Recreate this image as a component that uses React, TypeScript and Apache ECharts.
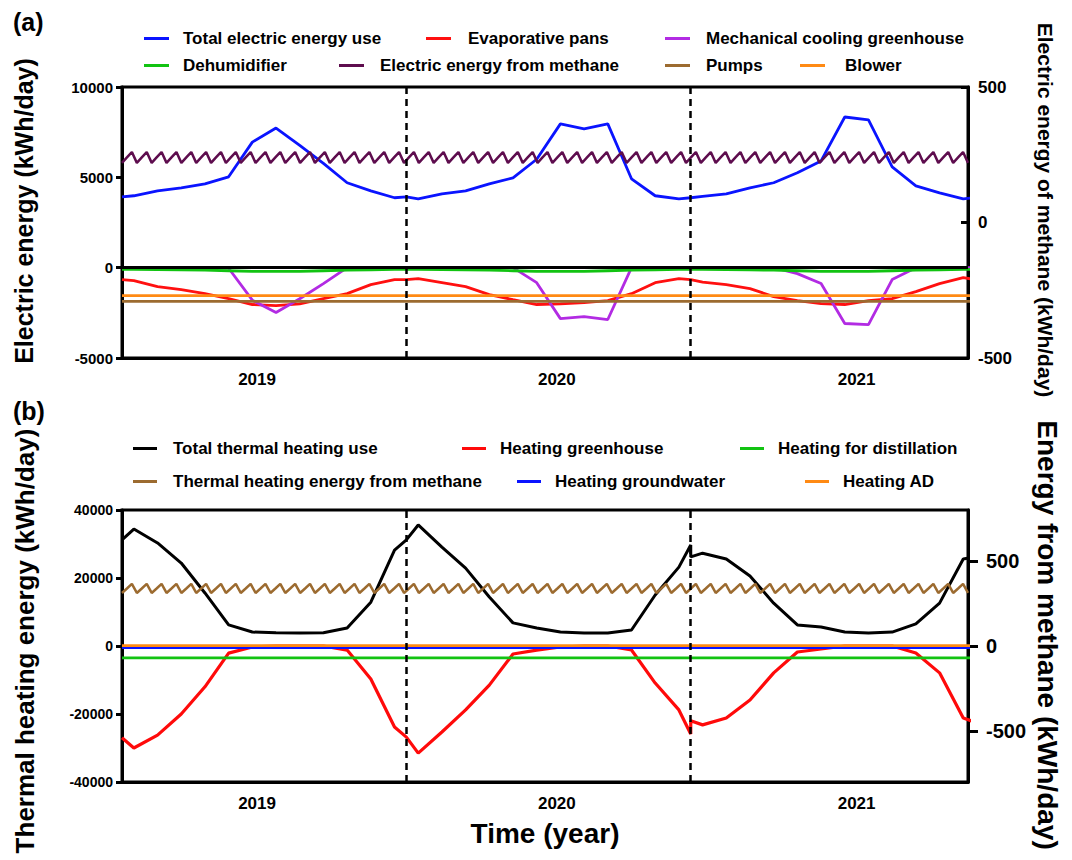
import React, { useEffect, useRef } from "react";
import * as echarts from "echarts";

const FONT = "'Liberation Sans', Arial, Helvetica, sans-serif";

// ---------- time axis (months since 1 Jan 2019) ----------
const monthMarks = [0, 0.5, 1.5, 2.5, 3.5, 4.5, 5.5, 6.5, 7.5, 8.5, 9.5, 10.5, 11.5, 12];
const yearOffsets = [0, 12, 24];
const yearBoundaries = [12, 24];
const yearLabels = ["2019", "2020", "2021"];
const yearLabelPositions = [5.7, 18.35, 31.0];
const axisMonths = [0, 35.7];
const spanEnds = [0, 36];

// ---------- panel (a): electric energy (kWh/day) ----------
const totalElectric = [
  3920, 3980, 4250, 4420, 4640, 5030, 6950, 7730, 6770, 5770, 4700, 4250, 3870, 3920,
  3900, 3810, 4090, 4250, 4640, 4970, 6000, 7960, 7680, 7960, 4920, 3980, 3810, 3870,
  3870, 3950, 4090, 4420, 4700, 5250, 5910, 8340, 8180, 5580, 4530, 4140, 3810, 3870,
];
const evaporativePans = [
  -660, -720, -1050, -1220, -1440, -1710, -2040, -2100, -2000, -1710, -1440, -940, -660, -660,
  -660, -610, -830, -1050, -1490, -1770, -2040, -2000, -1930, -1820, -1440, -830, -610, -660,
  -660, -800, -940, -1160, -1600, -1820, -1990, -2040, -1820, -1710, -1330, -880, -550, -660,
];
const mechanicalCooling = [
  0, 0, 0, 0, 0, -30, -1800, -2480, -1720, -880, 0, 0, 0, 0,
  0, 0, 0, 0, 0, 0, -830, -2820, -2710, -2870, 0, 0, 0, 0,
  0, 0, 0, 0, 0, -330, -880, -3090, -3150, -660, 0, 0, 0, 0,
];
const dehumidifier = [
  -100, -100, -110, -120, -140, -170, -200, -210, -200, -170, -140, -120, -100, -100,
  -100, -100, -110, -120, -140, -170, -200, -210, -200, -170, -140, -120, -100, -100,
  -100, -100, -110, -120, -140, -170, -200, -210, -200, -170, -140, -120, -100, -100,
];
const pumps = [-1870, -1870];
const blower = [-1550, -1550];
// electric energy from methane (right axis, kWh/day), sawtooth feeding cycles
const methaneElectric = [
  220, 240, 260, 220, 240, 260, 220, 240, 260, 220, 240, 260, 220, 240, 260,
  220, 240, 260, 220, 240, 260, 220, 240, 260, 220, 240, 260, 220, 240, 260,
  220, 240, 260, 220, 240, 260, 220, 240, 260, 220, 240, 260, 220, 240, 260,
  220, 240, 260, 220, 240, 260, 220, 240, 260, 220, 240, 260,
  220, 240, 260, 220, 240, 260, 220, 240, 260, 220, 240, 260, 220, 240, 260,
  220, 240, 260, 220, 240, 260, 220, 240, 260, 220, 240, 260, 220, 240, 260,
  220, 240, 260, 220, 240, 260, 220, 240, 260, 220, 240, 260, 220, 240, 260,
  220, 240, 260, 220, 240, 260, 220, 240, 260, 220, 240, 260,
  220, 240, 260, 220, 240, 260, 220, 240, 260, 220, 240, 260, 220, 240, 260,
  220, 240, 260, 220, 240, 260, 220, 240, 260, 220, 240, 260, 220, 240, 260,
  220, 240, 260, 220, 240, 260, 220, 240, 260, 220, 240, 260, 220, 240, 260,
  220, 240, 260, 220, 240, 260, 220, 240, 260, 220, 240, 260,
  220,
];

// ---------- panel (b): thermal heating energy (kWh/day) ----------
const totalThermal = [
  31200, 34400, 30300, 24400, 15600, 6200, 4100, 3900, 3800, 3900, 5300, 12900, 28200, 31200,
  31200, 35600, 29100, 22900, 14400, 6800, 5300, 4100, 3800, 3800, 4700, 15000, 23200, 29700,
  26200, 27300, 25600, 20600, 12600, 6200, 5600, 4100, 3800, 4100, 6500, 12600, 25600, 26200,
];
const heatingGreenhouse = [
  -27000, -30000, -26200, -20000, -12000, -2100, -300, 0, 0, 0, -1200, -9700, -23800, -26800,
  -26800, -31500, -25300, -18800, -11500, -2350, -1200, -300, 0, 0, -1180, -10900, -18800, -25900,
  -22000, -23200, -21200, -15900, -7900, -1760, -880, 0, 0, 0, -2060, -7900, -21200, -22400,
];
const heatingDistillation = [-3500, -3500];
const heatingGroundwater = [-450, -450];
const heatingAD = [100, 100];
// thermal heating energy from methane (right axis, kWh/day)
const methaneThermal = [
  312, 338, 365, 312, 338, 365, 312, 338, 365, 312, 338, 365, 312, 338, 365,
  312, 338, 365, 312, 338, 365, 312, 338, 365, 312, 338, 365, 312, 338, 365,
  312, 338, 365, 312, 338, 365, 312, 338, 365, 312, 338, 365, 312, 338, 365,
  312, 338, 365, 312, 338, 365, 312, 338, 365, 312, 338, 365,
  312, 338, 365, 312, 338, 365, 312, 338, 365, 312, 338, 365, 312, 338, 365,
  312, 338, 365, 312, 338, 365, 312, 338, 365, 312, 338, 365, 312, 338, 365,
  312, 338, 365, 312, 338, 365, 312, 338, 365, 312, 338, 365, 312, 338, 365,
  312, 338, 365, 312, 338, 365, 312, 338, 365, 312, 338, 365,
  312, 338, 365, 312, 338, 365, 312, 338, 365, 312, 338, 365, 312, 338, 365,
  312, 338, 365, 312, 338, 365, 312, 338, 365, 312, 338, 365, 312, 338, 365,
  312, 338, 365, 312, 338, 365, 312, 338, 365, 312, 338, 365, 312, 338, 365,
  312, 338, 365, 312, 338, 365, 312, 338, 365, 312, 338, 365,
  312,
];

const timeline = yearOffsets.flatMap((o) => monthMarks.map((m) => o + m));
const pairs = (vals: number[]) => timeline.map((t, i) => [t, vals[i]]);
const spanPairs = (vals: number[]) => spanEnds.map((t, i) => [t, vals[i]]);

const BLACK = "#000000";
const plainNum = (v: number) => String(v);

function legendItem(name: string, left: number, top: number, pad: number, w: number) {
  return {
    data: [name],
    left,
    top,
    icon: "rect",
    itemWidth: w,
    itemHeight: 3,
    selectedMode: false,
    textStyle: { fontFamily: FONT, fontSize: 17, fontWeight: "bold", color: BLACK, padding: [0, 0, 0, pad] },
  };
}

function valueXAxis(gridIndex: number, withName: boolean) {
  return {
    type: "value",
    gridIndex,
    min: axisMonths[0],
    max: axisMonths[1],
    axisLine: { show: true, onZero: false, lineStyle: { color: BLACK, width: 3 } },
    axisTick: { show: false },
    splitLine: { show: false },
    axisLabel: {
      customValues: yearLabelPositions,
      formatter: (v: number) => {
        let best = 0;
        yearLabelPositions.forEach((p, i) => {
          if (Math.abs(p - v) < Math.abs(yearLabelPositions[best] - v)) best = i;
        });
        return yearLabels[best];
      },
      fontFamily: FONT,
      fontSize: 17,
      fontWeight: "bold",
      color: BLACK,
      margin: 13,
    },
    name: withName ? "Time (year)" : "",
    nameLocation: "middle",
    nameGap: 37,
    nameTextStyle: { fontFamily: FONT, fontSize: 28, fontWeight: "bold", color: BLACK },
  };
}

function hiddenCatAxis(gridIndex: number, n: number) {
  return {
    type: "category",
    gridIndex,
    show: false,
    boundaryGap: false,
    data: Array.from({ length: n }, (_, i) => String(i)),
  };
}

function yAxisBase(gridIndex: number, position: string, extra: any) {
  return {
    type: "value",
    gridIndex,
    position,
    axisLine: { show: true, onZero: false, lineStyle: { color: BLACK, width: 3 } },
    axisTick: { show: true, length: 6, lineStyle: { color: BLACK, width: 3 } },
    splitLine: { show: false },
    ...extra,
  };
}

function axisTitle(text: string, x: number, y: number, size: number, left: boolean) {
  return {
    type: "text",
    x,
    y,
    rotation: left ? Math.PI / 2 : -Math.PI / 2,
    silent: true,
    style: {
      text,
      fontFamily: FONT,
      fontSize: size,
      fontWeight: "bold",
      fill: BLACK,
      align: "center",
      verticalAlign: "middle",
    },
  };
}

const lineStyle = (color: string, width = 2.8) => ({ color, width });

export default function App() {
  const ref = useRef<HTMLDivElement>(null);
  useEffect(() => {
    document.body.style.margin = "0";
    if (!ref.current) return;
    const chart = echarts.init(ref.current, undefined, { renderer: "svg" });

    const dashLines = {
      silent: true,
      symbol: ["none", "none"],
      label: { show: false },
      lineStyle: { color: BLACK, type: [7, 5], width: 2.5 },
      data: yearBoundaries.map((b) => ({ xAxis: b })),
    };

    const option: any = {
      animation: false,
      backgroundColor: "#ffffff",
      title: [
        { text: "(a)", left: 8, top: 4, textStyle: { fontFamily: FONT, fontSize: 25, fontWeight: "bold", color: BLACK } },
        { text: "(b)", left: 8, top: 393, textStyle: { fontFamily: FONT, fontSize: 25, fontWeight: "bold", color: BLACK } },
      ],
      graphic: [
        axisTitle("Electric energy (kWh/day)", 24, 211, 25, true),
        axisTitle("Electric energy of methane (kWh/day)", 1045, 210, 21, false),
        axisTitle("Thermal heating energy (kWh/day)", 25, 641, 26, true),
        axisTitle("Energy from methane (kWh/day)", 1047, 635, 28, false),
      ],
      legend: [
        legendItem("Total electric energy use", 139, 25, 9, 25),
        legendItem("Evaporative pans", 421, 25, 12, 25),
        legendItem("Mechanical cooling greenhouse", 660, 25, 11, 25),
        legendItem("Dehumidifier", 139, 52, 9, 25),
        legendItem("Electric energy from methane", 334, 52, 11, 25),
        legendItem("Pumps", 660, 52, 11, 25),
        legendItem("Blower", 795, 52, 15, 25),
        legendItem("Total thermal heating use", 128, 435, 11, 24),
        legendItem("Heating greenhouse", 457, 435, 9, 24),
        legendItem("Heating for distillation", 735, 435, 9, 24),
        legendItem("Thermal heating energy from methane", 128, 468, 11, 24),
        legendItem("Heating groundwater", 512, 468, 9, 24),
        legendItem("Heating AD", 800, 468, 9, 24),
      ],
      grid: [
        { left: 122, top: 87, width: 846, height: 271, show: true, borderColor: BLACK, borderWidth: 3, backgroundColor: "transparent" },
        { left: 122, top: 510, width: 846, height: 272, show: true, borderColor: BLACK, borderWidth: 3, backgroundColor: "transparent" },
      ],
      xAxis: [
        valueXAxis(0, false),
        valueXAxis(1, true),
        hiddenCatAxis(0, methaneElectric.length),
        hiddenCatAxis(1, methaneThermal.length),
      ],
      yAxis: [
        yAxisBase(0, "left", {
          min: -5000, max: 10000, interval: 5000,
          axisLabel: { formatter: plainNum, fontFamily: FONT, fontSize: 15, fontWeight: "bold", color: BLACK, margin: 9 },
        }),
        yAxisBase(0, "right", {
          min: -500, max: 500, interval: 500,
          axisTick: { show: true, inside: true, length: 7, lineStyle: { color: BLACK, width: 3 } },
          axisLabel: { formatter: plainNum, fontFamily: FONT, fontSize: 17, fontWeight: "bold", color: BLACK, margin: 10 },
        }),
        yAxisBase(1, "left", {
          min: -40000, max: 40000, interval: 20000,
          axisLabel: { formatter: plainNum, fontFamily: FONT, fontSize: 14, fontWeight: "bold", color: BLACK, margin: 9 },
        }),
        yAxisBase(1, "right", {
          min: -800, max: 800,
          axisTick: { show: true, length: 10, customValues: [-500, 0, 500], lineStyle: { color: BLACK, width: 3 } },
          axisLabel: { customValues: [-500, 0, 500], formatter: plainNum, fontFamily: FONT, fontSize: 20, fontWeight: "bold", color: BLACK, margin: 18 },
        }),
      ],
      series: [
        {
          name: "Total electric energy use", type: "line", xAxisIndex: 0, yAxisIndex: 0,
          data: pairs(totalElectric), showSymbol: false, color: "#0A14FF", lineStyle: lineStyle("#0A14FF"),
          markLine: {
            ...dashLines,
            data: [
              ...dashLines.data,
              { yAxis: 0, lineStyle: { color: BLACK, type: "solid", width: 3 } },
            ],
          },
        },
        {
          name: "Evaporative pans", type: "line", xAxisIndex: 0, yAxisIndex: 0,
          data: pairs(evaporativePans), showSymbol: false, color: "#FF1010", lineStyle: lineStyle("#FF1010"),
        },
        {
          name: "Mechanical cooling greenhouse", type: "line", xAxisIndex: 0, yAxisIndex: 0,
          data: pairs(mechanicalCooling), showSymbol: false, color: "#B22BE3", lineStyle: lineStyle("#B22BE3"),
        },
        {
          name: "Dehumidifier", type: "line", xAxisIndex: 0, yAxisIndex: 0,
          data: pairs(dehumidifier), showSymbol: false, color: "#12C312", lineStyle: lineStyle("#12C312"),
        },
        {
          name: "Electric energy from methane", type: "line", xAxisIndex: 2, yAxisIndex: 1,
          data: methaneElectric, showSymbol: false, color: "#5E0D4E", lineStyle: lineStyle("#5E0D4E", 2.5),
        },
        {
          name: "Pumps", type: "line", xAxisIndex: 0, yAxisIndex: 0,
          data: spanPairs(pumps), showSymbol: false, color: "#9C6B30", lineStyle: lineStyle("#9C6B30"),
        },
        {
          name: "Blower", type: "line", xAxisIndex: 0, yAxisIndex: 0,
          data: spanPairs(blower), showSymbol: false, color: "#FF8A14", lineStyle: lineStyle("#FF8A14"),
        },
        {
          name: "Total thermal heating use", type: "line", xAxisIndex: 1, yAxisIndex: 2,
          data: pairs(totalThermal), showSymbol: false, color: BLACK, lineStyle: lineStyle(BLACK, 3),
          markLine: dashLines,
        },
        {
          name: "Heating greenhouse", type: "line", xAxisIndex: 1, yAxisIndex: 2,
          data: pairs(heatingGreenhouse), showSymbol: false, color: "#FF0A0A", lineStyle: lineStyle("#FF0A0A", 3.2),
        },
        {
          name: "Heating for distillation", type: "line", xAxisIndex: 1, yAxisIndex: 2,
          data: spanPairs(heatingDistillation), showSymbol: false, color: "#12C312", lineStyle: lineStyle("#12C312"),
        },
        {
          name: "Thermal heating energy from methane", type: "line", xAxisIndex: 3, yAxisIndex: 3,
          data: methaneThermal, showSymbol: false, color: "#9C6B30", lineStyle: lineStyle("#9C6B30", 2.5),
        },
        {
          name: "Heating groundwater", type: "line", xAxisIndex: 1, yAxisIndex: 2,
          data: spanPairs(heatingGroundwater), showSymbol: false, color: "#0A14FF", lineStyle: lineStyle("#0A14FF"),
        },
        {
          name: "Heating AD", type: "line", xAxisIndex: 1, yAxisIndex: 2,
          data: spanPairs(heatingAD), showSymbol: false, color: "#FF8A14", lineStyle: lineStyle("#FF8A14"),
        },
      ],
    };

    chart.setOption(option);
    return () => chart.dispose();
  }, []);

  return <div ref={ref} style={{ width: 1072, height: 860 }} />;
}
